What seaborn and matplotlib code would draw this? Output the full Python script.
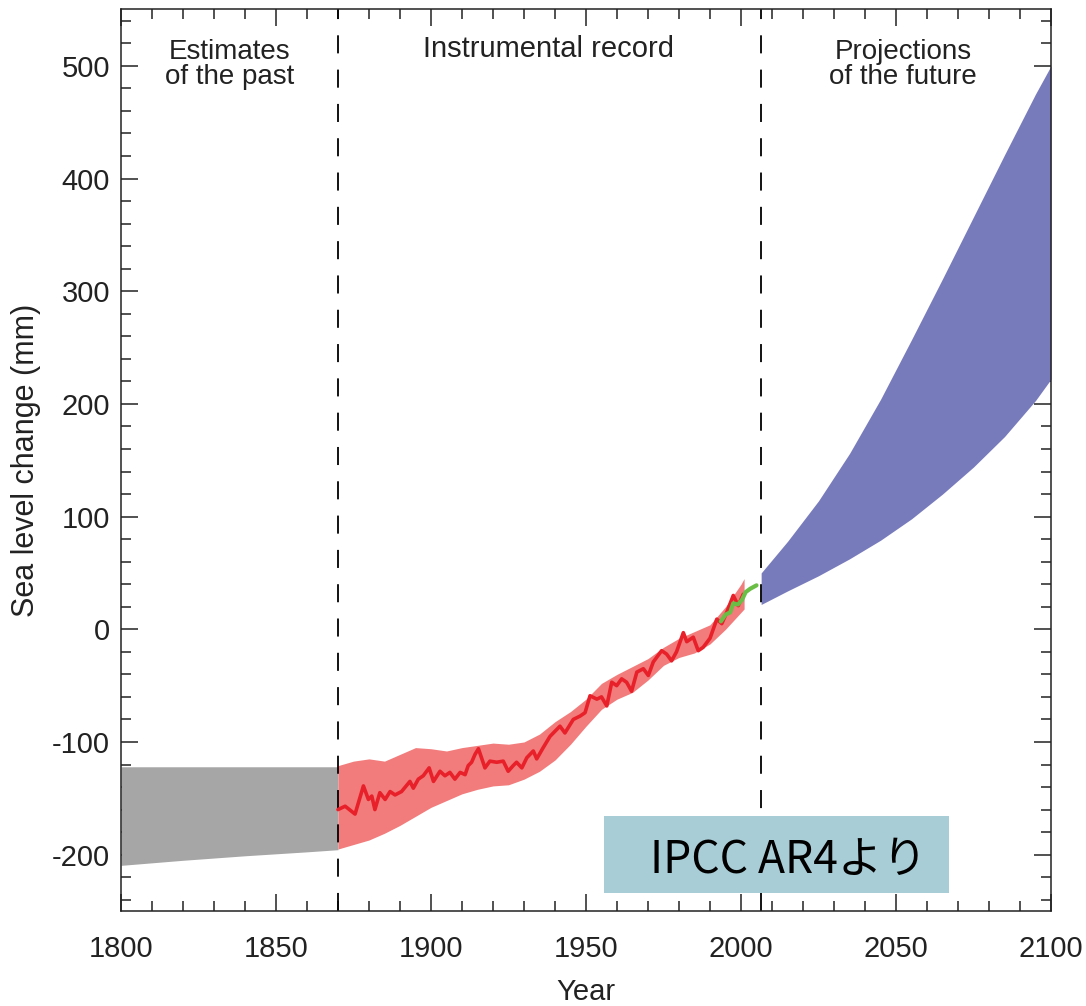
import numpy as np
import seaborn as sns
import matplotlib
matplotlib.use('Agg')
import matplotlib.pyplot as plt
from matplotlib.patches import Rectangle
from matplotlib.ticker import MultipleLocator

# gray band: estimates of the past
past_years = [1800, 1820, 1840, 1860, 1870]
past_top = [-122, -122, -122, -122, -122]
past_bottom = [-209.5, -205, -201, -197.5, -195.6]

# red band: instrumental record uncertainty
inst_years = [1870, 1875, 1880, 1885, 1890, 1895, 1900, 1905, 1910, 1915, 1920, 1925, 1930,
              1935, 1940, 1945, 1950, 1955, 1960, 1965, 1970, 1975, 1980, 1985, 1990, 1995,
              2000, 2001]
inst_upper = [-121, -117, -115, -117, -111, -105, -106, -108, -105, -103, -101, -102, -100,
              -93, -82, -73, -62, -48, -40, -33, -26, -16, -8, -2, 4, 20, 40, 45]
inst_lower = [-195, -191, -187, -181, -174, -166, -158, -152, -146, -142, -139, -138, -133,
              -126, -116, -102, -86, -71, -62, -56, -45, -32, -25, -21, -13, 0, 15, 18]

# red line: tide gauge reconstruction
tide_years = [1870, 1872.3, 1875.5, 1878.2, 1879.8, 1880.9, 1881.9, 1883.5, 1885.2, 1886.8,
              1888.4, 1890.5, 1893.2, 1894.3, 1895.9, 1897.5, 1899.4, 1900.8, 1902.9, 1904.5,
              1906.1, 1907.7, 1909.4, 1911, 1912, 1913.1, 1914.2, 1915.3, 1917.4, 1919,
              1921.2, 1923.3, 1924.9, 1926.5, 1927.6, 1929.3, 1930.9, 1933, 1934.1, 1936.2,
              1938.4, 1941.6, 1943.2, 1945.9, 1948.1, 1949.7, 1951.3, 1953.5, 1955, 1956.7,
              1958.3, 1959.9, 1961.5, 1963.1, 1964.7, 1966.4, 1968.5, 1970.1, 1971.7, 1974.4,
              1976, 1977.6, 1979.2, 1981.4, 1982.5, 1984.6, 1986.2, 1987.8, 1990, 1992.2,
              1993.8, 1995.4, 1997.5, 1999.1, 2000.7]
tide_level = [-160, -157, -164, -139, -151, -148, -160, -145, -151, -144,
              -147, -144, -135, -141, -133, -130, -123, -135, -126, -130,
              -127, -133, -127, -129, -121, -118, -111, -106, -123, -117,
              -118, -117, -126, -121, -118, -123, -114, -108, -115, -105,
              -95, -86, -92, -80, -77, -74, -59, -62, -60, -68,
              -47, -50, -44, -47, -55, -38, -35, -41, -29, -19,
              -22, -28, -20, -3, -11, -7, -19, -16, -8, 9,
              5, 15, 30, 21, 31]

# green line: satellite altimetry
sat_years = [1993.5, 1995, 1996.5, 1997.5, 1999, 2000.3, 2001.5, 2003, 2005]
sat_level = [7, 13, 15, 23, 22, 26, 33, 36, 39]

# blue band: projections of the future
proj_years = [2006.5, 2015, 2025, 2035, 2045, 2055, 2065, 2075, 2085, 2095, 2100]
proj_upper = [50, 78, 114, 156, 204, 257, 311, 366, 421, 475, 500]
proj_lower = [22, 34, 47.5, 62.5, 79, 98, 120, 144, 171, 203, 222]

period_breaks = [1870, 2006.5]

sns.set_style('ticks')
plt.rcParams['font.family'] = ['Liberation Sans', 'DejaVu Sans']
plt.rcParams['axes.unicode_minus'] = False

fig = plt.figure(figsize=(10.86, 10.06), dpi=100)
ax = fig.add_axes([121 / 1086, 1 - 911 / 1006, 930 / 1086, 901.5 / 1006])

ax.fill_between(past_years, past_bottom, past_top, color='#a6a6a6', lw=0)
ax.fill_between(inst_years, inst_lower, inst_upper, color='#f27c7c', lw=0)
ax.fill_between(proj_years, proj_lower, proj_upper, color='#787bbb', lw=0)
sns.lineplot(x=tide_years, y=tide_level, ax=ax, color='#e8202a', lw=2.6)
sns.lineplot(x=sat_years, y=sat_level, ax=ax, color='#6abd45', lw=3)

for yr in period_breaks:
    ax.axvline(yr, color='black', lw=1.3, linestyle=(0, (10, 9)), zorder=1)

ax.set_xlim(1800, 2100)
ax.set_ylim(-250, 550)
ax.xaxis.set_major_locator(MultipleLocator(50))
ax.xaxis.set_minor_locator(MultipleLocator(10))
ax.yaxis.set_major_locator(MultipleLocator(100))
ax.yaxis.set_minor_locator(MultipleLocator(20))
ax.tick_params(which='both', direction='in', top=True, right=True, width=1.1, color='#222222')
ax.tick_params(which='major', length=12.5, labelsize=21, colors='#222222')
ax.tick_params(which='minor', length=7.2)
ax.tick_params(axis='x', which='major', pad=17)
ax.tick_params(axis='y', which='major', pad=8)
for s in ax.spines.values():
    s.set_linewidth(1.1)
    s.set_color('#222222')

ax.set_xlabel('Year', fontsize=21, labelpad=11, color='#222222')
ax.set_ylabel('Sea level change (mm)', fontsize=22, labelpad=8, color='#222222')

ax.text(1835, 524, 'Estimates\nof the past', ha='center', va='top', fontsize=20,
        linespacing=0.95, color='#222222')
ax.text(1938, 527, 'Instrumental record', ha='center', va='top', fontsize=21, color='#222222')
ax.text(2052.3, 524, 'Projections\nof the future', ha='center', va='top', fontsize=20,
        linespacing=0.95, color='#222222')

fig.add_artist(Rectangle((604 / 1086, 1 - 893 / 1006), 345 / 1086, 77 / 1006,
                         transform=fig.transFigure, facecolor='#a9cdd6', edgecolor='none', zorder=5))
fig.text(788 / 1086, 1 - 873 / 1006, 'IPCC AR4より', ha='center', va='baseline', fontsize=32,
         family=['Noto Sans CJK JP', 'DejaVu Sans'], color='black', zorder=6)

fig.savefig('out.png', dpi=100)
